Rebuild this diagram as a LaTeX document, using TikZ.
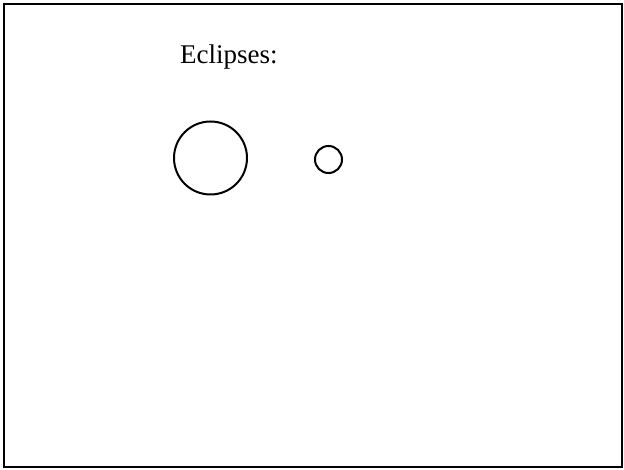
\documentclass[tikz,border=0pt]{standalone}
\usepackage{fontspec}
\setmainfont{Liberation Serif}
\begin{document}
\begin{tikzpicture}[x=1pt,y=-1pt,
  frame/.style={draw=black,line width=2pt},
  body/.style={draw=black,line width=2pt,circle,inner sep=0pt},
  label/.style={font=\fontsize{27}{30}\selectfont,inner sep=0pt,anchor=base west}]
\useasboundingbox (0,0) rectangle (624,470);
\node[frame,minimum width=618pt,minimum height=463pt,inner sep=0pt] (frame) at (313,466.5/2+2.5) {};
\node[label] (title) at (180,64) {Eclipses:};
\node[body,minimum size=73pt] (sun) at (210.5,158) {};
\node[body,minimum size=27pt] (moon) at (328.5,159.5) {};
\end{tikzpicture}
\end{document}
